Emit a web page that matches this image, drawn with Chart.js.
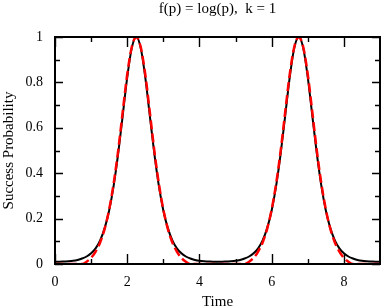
<!DOCTYPE html>
<html>
<head>
<meta charset="utf-8">
<script src="https://cdn.jsdelivr.net/npm/chart.js@4/dist/chart.umd.min.js"></script>
<style>
  html, body { margin: 0; padding: 0; background: #fff; }
  #chart { display: block; }
</style>
</head>
<body>
<canvas id="chart" width="381" height="308"></canvas>
<script>
// time axis samples
const time = [0,0.125,0.25,0.375,0.5,0.625,0.75,0.875,1,1.125,1.25,1.375,1.5,1.625,1.75,1.875,
  2,2.125,2.25,2.375,2.5,2.625,2.75,2.875,3,3.125,3.25,3.375,3.5,3.625,3.75,3.875,
  4,4.125,4.25,4.375,4.5,4.625,4.75,4.875,5,5.125,5.25,5.375,5.5,5.625,5.75,5.875,
  6,6.125,6.25,6.375,6.5,6.625,6.75,6.875,7,7.125,7.25,7.375,7.5,7.625,7.75,7.875,
  8,8.125,8.25,8.375,8.5,8.625,8.75,8.875,9];

// solid black curve
const exact = [0.010,0.010,0.011,0.012,0.014,0.018,0.024,0.033,0.047,0.069,0.104,0.158,0.236,0.345,0.487,0.654,0.822,0.951,1.000,
  0.951,0.822,0.654,0.487,0.345,0.236,0.158,0.104,0.069,0.047,0.033,0.024,0.018,0.014,0.012,0.011,0.010,0.010,
  0.010,0.011,0.012,0.014,0.018,0.024,0.033,0.047,0.069,0.104,0.158,0.236,0.345,0.487,0.654,0.822,0.951,1.000,
  0.951,0.822,0.654,0.487,0.345,0.236,0.158,0.104,0.069,0.047,0.033,0.024,0.018,0.014,0.012,0.011,0.010,0.010];

// dashed red curve
const approx = [0,0,0,0,0,0,0,0.010,0.027,0.055,0.095,0.155,0.240,0.355,0.500,0.670,0.835,0.955,1.000,
  0.955,0.835,0.670,0.500,0.355,0.240,0.155,0.095,0.055,0.027,0.010,0,0,0,0,0,0,0,
  0,0,0,0,0,0,0.010,0.027,0.055,0.095,0.155,0.240,0.355,0.500,0.670,0.835,0.955,1.000,
  0.955,0.835,0.670,0.500,0.355,0.240,0.155,0.095,0.055,0.027,0.010,0,0,0,0,0,0,0];

const xTicks = [0, 2, 4, 6, 8];
const yTicks = [0, 0.2, 0.4, 0.6, 0.8, 1];

const serif = 'Liberation Serif';

// inward ticks on all four sides plus the frame
const frameTicks = {
    id: 'frameTicks',
    afterDatasetsDraw(chart) {
        const { ctx, chartArea: a, scales: { x, y } } = chart;
        ctx.save();
        ctx.strokeStyle = '#000';
        ctx.lineWidth = 1.4;
        ctx.beginPath();
        const xMinor = xTicks.map(v => v + 1).filter(v => v < 9);
        const yMinor = yTicks.slice(0, -1).map(v => v + 0.1);
        const vTick = (v, len) => {
            const px = Math.round(x.getPixelForValue(v)) + 0.5;
            ctx.moveTo(px, a.bottom); ctx.lineTo(px, a.bottom - len);
            ctx.moveTo(px, a.top); ctx.lineTo(px, a.top + len);
        };
        const hTick = (v, len) => {
            const py = Math.round(y.getPixelForValue(v)) + 0.5;
            ctx.moveTo(a.left, py); ctx.lineTo(a.left + len, py);
            ctx.moveTo(a.right, py); ctx.lineTo(a.right - len, py);
        };
        xTicks.forEach(v => vTick(v, 10));
        xMinor.forEach(v => vTick(v, 5));
        yTicks.forEach(v => hTick(v, 8));
        yMinor.forEach(v => hTick(v, 5));
        ctx.stroke();
        ctx.lineWidth = 2;
        ctx.strokeRect(a.left, a.top, a.right - a.left, a.bottom - a.top);
        ctx.restore();
    }
};

const ctx = document.getElementById('chart').getContext('2d');
new Chart(ctx, {
    type: 'line',
    data: {
        labels: time,
        datasets: [
            {
                label: 'approx',
                data: time.map((t, i) => ({ x: t, y: approx[i] })),
                borderColor: '#ff0000',
                borderWidth: 2.5,
                borderDash: [9, 4],
                pointRadius: 0,
                fill: false,
                cubicInterpolationMode: 'monotone'
            },
            {
                label: 'exact',
                data: time.map((t, i) => ({ x: t, y: exact[i] })),
                borderColor: '#000000',
                borderWidth: 2,
                pointRadius: 0,
                fill: false,
                cubicInterpolationMode: 'monotone'
            }
        ]
    },
    options: {
        responsive: false,
        animation: false,
        devicePixelRatio: 1,
        layout: { padding: { left: 0, right: 1, top: 0, bottom: 0 } },
        plugins: {
            legend: { display: false },
            tooltip: { enabled: false },
            title: {
                display: true,
                text: 'f(p) = log(p),  k = 1',
                color: '#000',
                fullSize: false,
                font: { family: serif, size: 15, weight: 'normal' },
                padding: { top: 0, bottom: 19 }
            }
        },
        scales: {
            x: {
                type: 'linear',
                min: 0,
                max: 9,
                afterFit: s => { s.height = 44; },
                grid: { display: false, drawTicks: false },
                border: { display: false },
                ticks: {
                    stepSize: 2,
                    includeBounds: false,
                    padding: 10,
                    color: '#000',
                    maxRotation: 0,
                    font: { family: serif, size: 14 }
                },
                title: {
                    display: true,
                    text: 'Time',
                    color: '#000',
                    padding: { top: 0, bottom: -3 },
                    font: { family: serif, size: 15 }
                }
            },
            y: {
                min: 0,
                max: 1,
                afterFit: s => { s.width = 55; },
                grid: { display: false, drawTicks: false },
                border: { display: false },
                ticks: {
                    stepSize: 0.2,
                    padding: 12,
                    color: '#000',
                    font: { family: serif, size: 14 },
                    callback: v => String(Number(v.toFixed(1)))
                },
                title: {
                    display: true,
                    text: 'Success Probability',
                    color: '#000',
                    padding: 0,
                    font: { family: serif, size: 15 }
                }
            }
        }
    },
    plugins: [frameTicks]
});
</script>
</body>
</html>
